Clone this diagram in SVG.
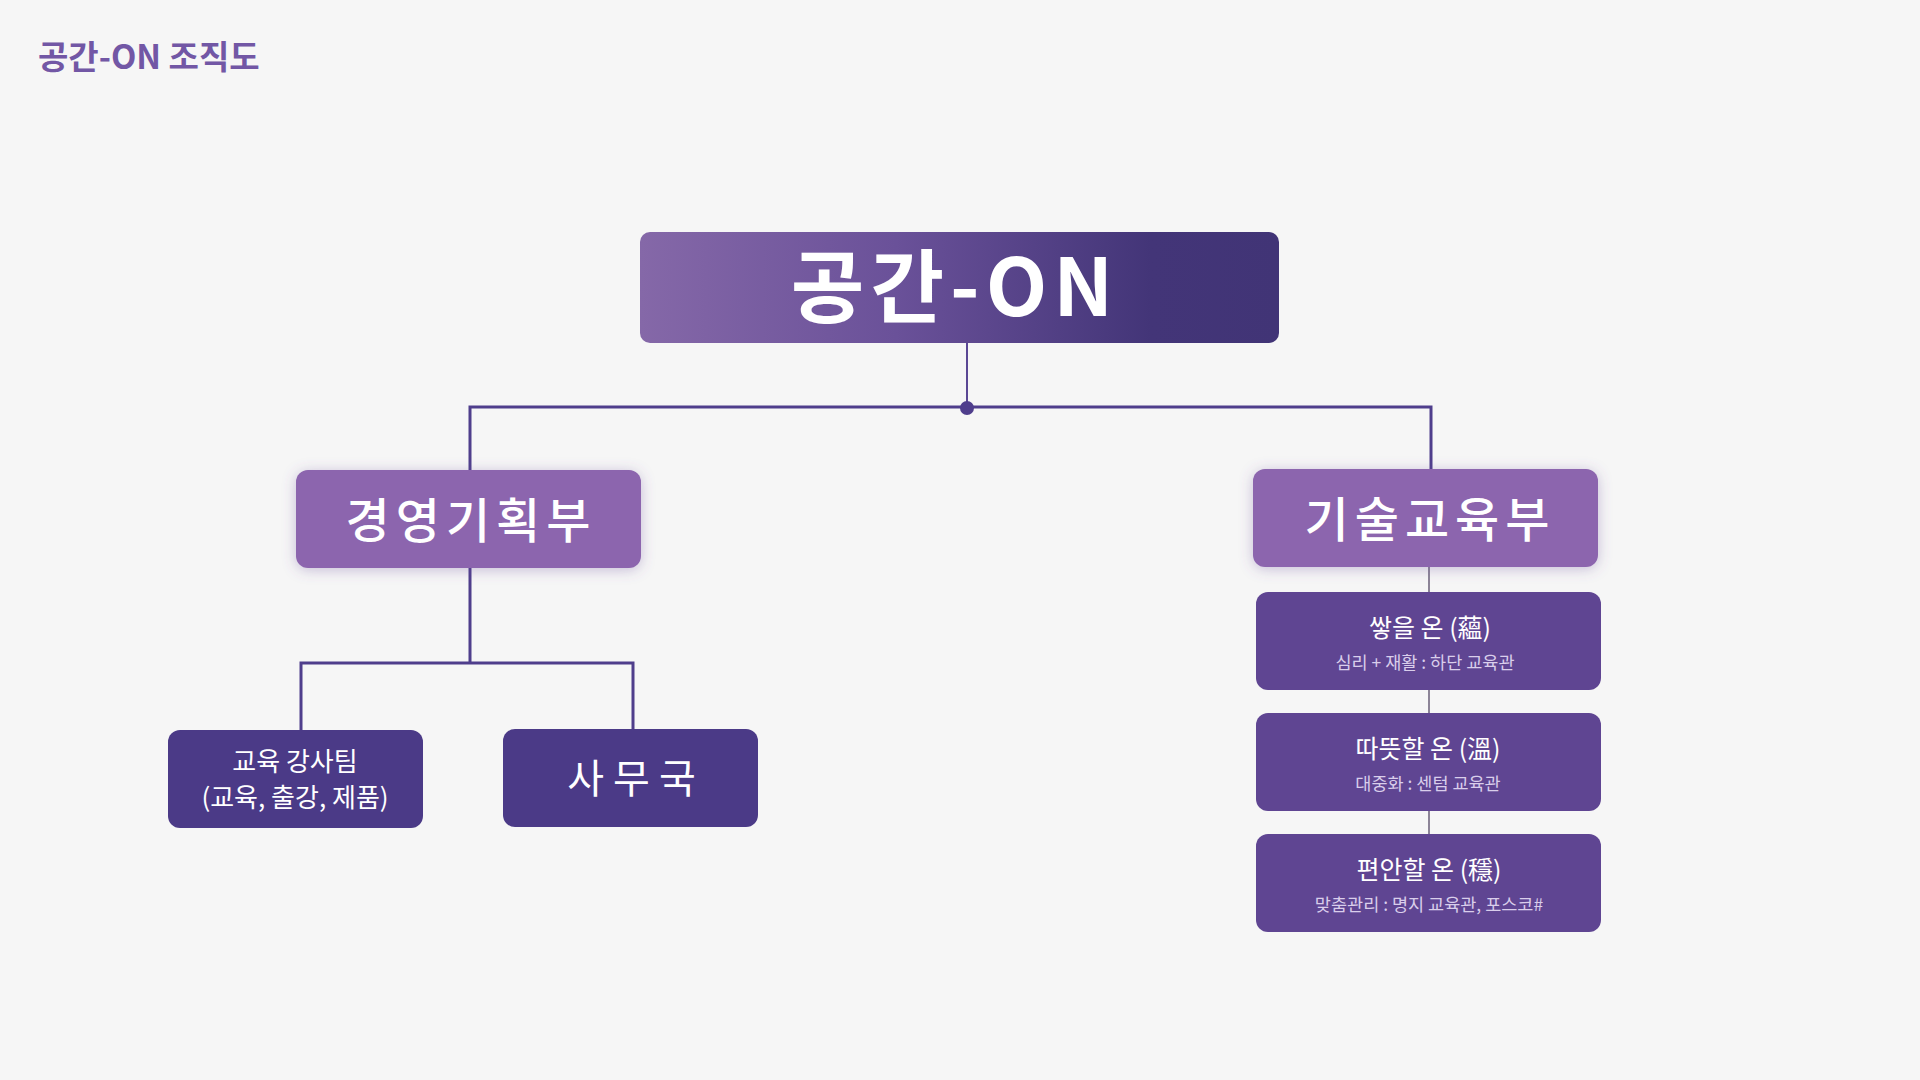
<svg xmlns="http://www.w3.org/2000/svg" width="1920" height="1080" viewBox="0 0 1920 1080">
<defs>
<linearGradient id="gTop" x1="0" y1="0" x2="1" y2="0">
<stop offset="0" stop-color="#8568A8"/>
<stop offset="0.4" stop-color="#6A5199"/>
<stop offset="0.8" stop-color="#433578"/>
<stop offset="1" stop-color="#413476"/>
</linearGradient>
<filter id="shadow" x="-20%" y="-30%" width="140%" height="160%">
<feDropShadow dx="0" dy="2" stdDeviation="7" flood-color="#6B4E9E" flood-opacity="0.35"/>
</filter>
<style>
text{font-family:"Noto Sans CJK KR","Noto Sans",sans-serif;}
.dept{fill:#8C65AE;}
.team{fill:#4B3A87;}
.sub{fill:#5F4592;}
.wt{fill:#FFFFFF;text-anchor:middle;}
.lite{fill:#D9CEEB;text-anchor:middle;font-size:17.5px;}
.line{stroke:#4F3E8C;stroke-width:3;fill:none;}
.thin{stroke:#5A4794;stroke-width:2;fill:none;}
.gray{stroke:#8C8497;stroke-width:2;fill:none;}
</style>
</defs>
<rect x="0" y="0" width="1920" height="1080" fill="#F6F6F6"/>
<text x="38" y="69" font-size="33" font-weight="600" fill="#7257A5">공간-ON 조직도</text>

<g id="connectors">
<line class="thin" x1="967" y1="343" x2="967" y2="408"/>
<polyline class="line" points="470,470 470,407 1431,407 1431,469"/>
<circle cx="967" cy="408" r="7" fill="#4F3E8C"/>
<polyline class="line" points="470,568 470,663"/>
<polyline class="line" points="301,730 301,663 633,663 633,729"/>
<line class="gray" x1="1429" y1="567" x2="1429" y2="592"/>
<line class="gray" x1="1429" y1="690" x2="1429" y2="713"/>
<line class="gray" x1="1429" y1="811" x2="1429" y2="834"/>
</g>

<g id="node-root">
<rect x="640" y="232" width="639" height="111" rx="10" fill="url(#gTop)"/>
<text class="wt" x="955" y="316" font-size="80" font-weight="700" letter-spacing="6">공간-ON</text>
</g>

<g id="node-mgmt">
<rect class="dept" x="296" y="470" width="345" height="98" rx="12" filter="url(#shadow)"/>
<text class="wt" x="471" y="538" font-size="48" font-weight="500" letter-spacing="6">경영기획부</text>
</g>

<g id="node-tech">
<rect class="dept" x="1253" y="469" width="345" height="98" rx="12" filter="url(#shadow)"/>
<text class="wt" x="1430" y="537" font-size="48" font-weight="500" letter-spacing="6">기술교육부</text>
</g>

<g id="node-instructors">
<rect class="team" x="168" y="730" width="255" height="98" rx="12"/>
<text class="wt" x="295" y="771" font-size="26">교육 강사팀</text>
<text class="wt" x="295" y="807" font-size="26">(교육, 출강, 제품)</text>
</g>

<g id="node-office">
<rect class="team" x="503" y="729" width="255" height="98" rx="12"/>
<text class="wt" x="636" y="793" font-size="40" letter-spacing="9">사무국</text>
</g>

<g id="node-on1">
<rect class="sub" x="1256" y="592" width="345" height="98" rx="12"/>
<text class="wt" x="1430" y="637" font-size="25">쌓을 온 (蘊)</text>
<text class="lite" x="1425" y="669">심리 + 재활 : 하단 교육관</text>
</g>

<g id="node-on2">
<rect class="sub" x="1256" y="713" width="345" height="98" rx="12"/>
<text class="wt" x="1428" y="758" font-size="25">따뜻할 온 (溫)</text>
<text class="lite" x="1428" y="790">대중화 : 센텀 교육관</text>
</g>

<g id="node-on3">
<rect class="sub" x="1256" y="834" width="345" height="98" rx="12"/>
<text class="wt" x="1429" y="879" font-size="25">편안할 온 (穩)</text>
<text class="lite" x="1429" y="911">맞춤관리 : 명지 교육관, 포스코#</text>
</g>
</svg>
